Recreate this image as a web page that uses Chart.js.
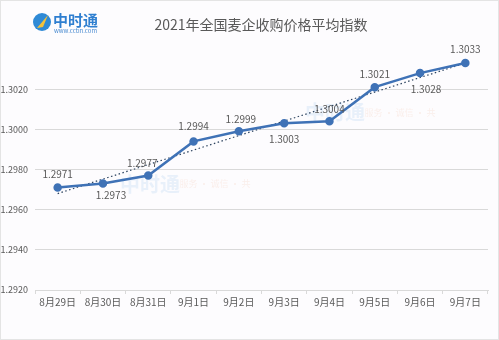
<!DOCTYPE html>
<html>
<head>
<meta charset="utf-8">
<script src="https://cdn.jsdelivr.net/npm/chart.js@4"></script>
<style>
  html, body { margin: 0; padding: 0; background: #fdfcfe; }
  #wrap { width: 499px; height: 340px; }
</style>
</head>
<body>
<div id="wrap"><canvas id="priceChart" width="499" height="340"></canvas></div>
<script>
  // 数据
  const labels = ['8月29日', '8月30日', '8月31日', '9月1日', '9月2日', '9月3日', '9月4日', '9月5日', '9月6日', '9月7日'];
  const priceIndex = [1.2971, 1.2973, 1.2977, 1.2994, 1.2999, 1.3003, 1.3004, 1.3021, 1.3028, 1.3033];
  const trendEnds = [1.2968, 1.3033];
  const yTicks = [1.2920, 1.2940, 1.2960, 1.2980, 1.3000, 1.3020];
  // 数据标签偏移 (dx, dy)
  const labelOffsets = [[0, -13], [8, 12], [-6, -12], [0, -15], [2, -12], [0, 16], [0, -12], [0, -13], [6, 16], [0, -14]];

  const font = '"Noto Sans CJK SC", "Noto Sans", sans-serif';
  const blue = '#3f72b6';

  // 标题和 logo
  const headerPlugin = {
    id: 'header',
    beforeDraw(chart) {
      const ctx = chart.ctx;
      ctx.save();
      ctx.fillStyle = '#fdfcfe';
      ctx.fillRect(0, 0, chart.width, chart.height);
      ctx.strokeStyle = '#e4e4e4';
      ctx.strokeRect(0.5, 0.5, chart.width - 1, chart.height - 1);

      // logo
      ctx.fillStyle = '#2f8ad6';
      ctx.beginPath();
      ctx.arc(42, 22, 9, 0, Math.PI * 2);
      ctx.fill();
      ctx.fillStyle = '#f4c23a';
      ctx.beginPath();
      ctx.moveTo(37, 28); ctx.lineTo(48, 15); ctx.lineTo(43, 27); ctx.closePath();
      ctx.fill();
      ctx.fillStyle = '#2f7fd0';
      ctx.font = 'bold 15px ' + font;
      ctx.textBaseline = 'alphabetic';
      ctx.fillText('中时通', 53, 26);
      ctx.font = '6px ' + font;
      ctx.fillStyle = '#4a8bd0';
      ctx.fillText('www.cctin.com', 54, 33);

      // 标题
      ctx.fillStyle = '#595959';
      ctx.font = '14px ' + font;
      ctx.textAlign = 'center';
      ctx.textBaseline = 'middle';
      ctx.fillText('2021年全国麦企收购价格平均指数', 261, 25);

      // 水印
      ctx.globalAlpha = 0.1;
      ctx.fillStyle = '#2f8ad6';
      ctx.font = 'bold 20px ' + font;
      ctx.fillText('中时通', 150, 184);
      ctx.fillText('中时通', 335, 112);
      ctx.fillStyle = '#e07a3a';
      ctx.font = '9px ' + font;
      ctx.fillText('服务 · 诚信 · 共', 215, 184);
      ctx.fillText('服务 · 诚信 · 共', 400, 113);
      ctx.restore();
    }
  };

  // 数据标签
  const valueLabels = {
    id: 'valueLabels',
    afterDatasetsDraw(chart) {
      const ctx = chart.ctx;
      const meta = chart.getDatasetMeta(0);
      ctx.save();
      ctx.font = '10px ' + font;
      ctx.fillStyle = '#595959';
      ctx.textAlign = 'center';
      ctx.textBaseline = 'middle';
      meta.data.forEach((pt, i) => {
        const [dx, dy] = labelOffsets[i];
        ctx.fillText(priceIndex[i].toFixed(4), pt.x + dx, pt.y + dy);
      });
      ctx.restore();
    }
  };

  new Chart(document.getElementById('priceChart'), {
    type: 'line',
    data: {
      labels: labels,
      datasets: [{
        data: priceIndex,
        borderColor: blue,
        backgroundColor: blue,
        borderWidth: 2.5,
        pointRadius: 3,
        pointBackgroundColor: blue,
        pointBorderColor: blue,
        tension: 0,
        order: 0
      }, {
        data: [{ x: labels[0], y: trendEnds[0] }, { x: labels[labels.length - 1], y: trendEnds[1] }],
        borderColor: '#2d4460',
        borderWidth: 1.2,
        borderDash: [1.5, 2.5],
        pointRadius: 0,
        order: 1
      }]
    },
    options: {
      responsive: false,
      animation: false,
      devicePixelRatio: 1,
      layout: { padding: { top: 49, right: 11, bottom: 29, left: 0 } },
      plugins: {
        legend: { display: false },
        title: { display: false },
        tooltip: { enabled: false }
      },
      scales: {
        x: {
          offset: true,
          afterFit: (s) => { s.height = 21; },
          border: { color: '#d9d9d9' },
          grid: { offset: true, drawOnChartArea: false, drawTicks: true, tickLength: 4, color: '#d9d9d9' },
          ticks: { color: '#595959', font: { size: 10, family: font }, padding: 2, maxRotation: 0 }
        },
        y: {
          min: 1.2920,
          max: 1.3040,
          afterFit: (s) => { s.width = 35; },
          afterBuildTicks: (s) => { s.ticks = yTicks.map(v => ({ value: v })); },
          border: { display: false },
          grid: { color: '#d9d9d9', drawTicks: false },
          ticks: {
            color: '#595959',
            font: { size: 9, family: font },
            padding: 7,
            callback: (v) => Number(v).toFixed(4)
          }
        }
      }
    },
    plugins: [headerPlugin, valueLabels]
  });
</script>
</body>
</html>
